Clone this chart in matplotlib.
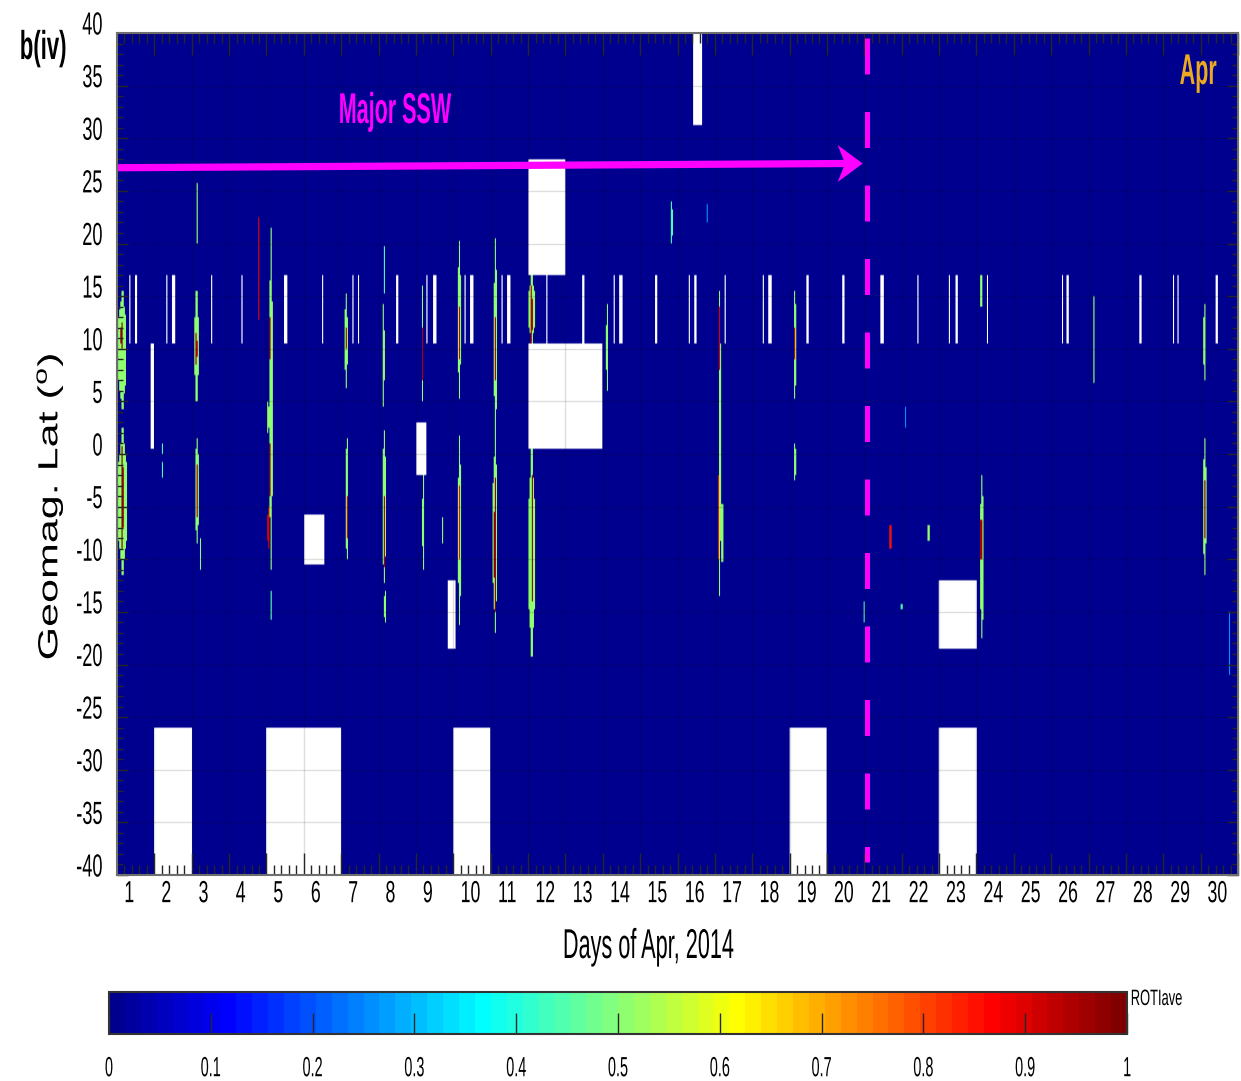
import numpy as np
import matplotlib

matplotlib.use("Agg")
import matplotlib.pyplot as plt
from matplotlib.colors import ListedColormap
from matplotlib.patches import Polygon
from matplotlib.patheffects import AbstractPathEffect
from matplotlib.ticker import FixedLocator, MultipleLocator
from matplotlib.transforms import Affine2D, ScaledTranslation

plt.rcParams["font.family"] = ["Liberation Sans", "DejaVu Sans"]
plt.rcParams["mathtext.fontset"] = "custom"
plt.rcParams["mathtext.rm"] = "Liberation Sans"
plt.rcParams["axes.unicode_minus"] = False

# --- data -----------------------------------------------------------------
# Day axis runs 0..30 (fraction of April), latitude -40..40 deg.
DAY_LABELS = list(range(1, 31))
CBAR_TICKS = [0, 0.1, 0.2, 0.3, 0.4, 0.5, 0.6, 0.7, 0.8, 0.9, 1.0]

# Blocks without receiver coverage: start day, end day, lower lat, upper lat
GAP_DAY0 = [0.99, 4.0, 9.0, 18.0, 22.0, 11.0, 11.0, 5.0, 8.0, 8.85, 22.0, 0.9, 15.42]
GAP_DAY1 = [2.0, 6.0, 10.0, 19.0, 23.0, 12.0, 13.0, 5.55, 8.27, 9.07, 23.0, 0.99, 15.66]
GAP_LAT0 = [-40, -40, -40, -40, -40, 17.0, 0.5, -10.6, -2.0, -18.5, -18.5, 0.5, 31.2]
GAP_LAT1 = [-26, -26, -26, -26, -26, 28.0, 10.5, -5.7, 2.9, -12.0, -12.0, 10.5, 40.0]

# Short daily outages inside the 10.5-17 deg band
BAND_LAT0 = 10.5
BAND_LAT1 = 17.0
OUTAGE_DAY = [0.51, 1.51, 2.53, 4.51, 5.51, 7.50, 8.50, 9.49, 10.49, 11.50,
              12.48, 13.48, 14.43, 15.48, 17.48, 18.48, 19.45, 20.47, 22.46,
              25.45, 27.40, 29.43,
              0.33, 1.34, 3.35, 6.30, 6.45, 8.30, 9.30, 10.30, 13.30, 15.30,
              16.27, 17.29, 21.30, 21.42, 22.27, 23.30, 24.27, 25.30, 28.26,
              28.40, 29.25]
OUTAGE_WIDTH = [0.08, 0.08, 0.04, 0.08, 0.04, 0.08, 0.08, 0.08, 0.08, 0.05,
                0.08, 0.08, 0.04, 0.08, 0.08, 0.05, 0.06, 0.08, 0.07,
                0.07, 0.05, 0.07,
                0.03, 0.03, 0.03, 0.03, 0.03, 0.03, 0.03, 0.03, 0.03, 0.03,
                0.03, 0.03, 0.03, 0.03, 0.03, 0.03, 0.03, 0.03, 0.03,
                0.03, 0.03]

# ROTI enhancements: day, lower lat, upper lat, ROTIave, width in days
STREAK_DAY = [0.14, 0.13, 0.15, 0.14, 1.20, 1.20, 2.15, 2.13, 2.13, 2.14,
              2.15, 2.23, 3.80, 4.12, 4.10, 4.10, 4.05, 4.04, 4.13, 6.13,
              6.13, 6.15, 6.17, 7.15, 7.13, 7.15, 7.16, 7.17, 8.17, 8.17,
              8.20, 8.72, 9.16, 9.16, 9.17, 9.17, 10.13, 10.12, 10.12, 10.12,
              11.10, 11.10, 11.10, 11.12, 13.12, 14.85, 15.80, 16.13, 16.12, 16.10,
              16.20, 18.15, 18.15, 18.15, 19.80, 20.00, 20.70, 21.00, 21.10, 21.72,
              23.13, 23.15, 23.13, 26.15, 29.10, 29.11, 29.11, 29.76]
STREAK_LAT0 = [4.2, 9.9, -11.5, -9.1, 0.0, -2.2, 20.0, 5.1, 8.5, -8.4,
               -6.0, -11.0, 12.7, -11.0, 9.0, -4.0, -9.0, 2.0, -15.7, 6.3,
               10.0, -10.0, -8.0, 15.3, 4.5, -12.2, -10.7, -16.0, 4.9, 7.0,
               -11.0, -8.5, 5.3, 9.0, -16.3, -10.0, 1.3, 7.0, -17.0, -15.0,
               10.5, 10.5, -19.3, -14.0, 6.0, 20.0, 21.9, -13.4, 8.0, -10.0,
               -12.0, 5.3, 9.0, -2.6, -20.0, -16.0, -9.8, -15.0, 2.4, -8.7,
               13.2, -17.6, -11.4, 6.7, 7.1, -11.4, -8.0, -21.0]
STREAK_LAT1 = [15.6, 12.5, 2.5, 0.7, 1.0, -0.8, 25.8, 15.4, 11.5, 1.6,
               -1.0, -8.0, 22.5, 21.5, 13.0, 1.0, -5.0, 5.0, -13.0, 15.3,
               12.0, 1.6, -4.0, 19.7, 14.3, 2.3, -4.0, -13.0, 16.0, 12.0,
               -2.0, -6.0, 20.2, 14.0, 1.7, -3.0, 20.5, 13.0, 2.0, -2.3,
               17.0, 16.0, 0.5, -2.0, 14.3, 24.0, 23.7, 15.6, 14.0, -2.0,
               -3.0, 15.6, 12.0, 1.0, -17.0, -14.0, -6.0, -14.0, 4.5, -6.2,
               17.8, -2.0, -4.8, 15.1, 14.3, 1.5, -2.5, -15.0]
STREAK_ROTI = [0.5, 0.97, 0.5, 0.97, 0.45, 0.45, 0.5, 0.5, 0.95, 0.5,
               0.95, 0.5, 0.9, 0.5, 0.95, 0.95, 0.9, 0.5, 0.45, 0.5,
               0.95, 0.5, 0.9, 0.45, 0.5, 0.5, 0.95, 0.5, 0.5, 0.95,
               0.5, 0.5, 0.5, 0.9, 0.5, 0.85, 0.5, 0.95, 0.5, 0.97,
               0.5, 0.95, 0.5, 0.97, 0.5, 0.45, 0.25, 0.5, 0.9, 0.85,
               0.5, 0.5, 0.9, 0.5, 0.45, 0.45, 0.85, 0.45, 0.25, 0.5,
               0.5, 0.5, 0.95, 0.5, 0.5, 0.5, 0.97, 0.25]
STREAK_WIDTH = [0.20, 0.06, 0.22, 0.06, 0.03, 0.03, 0.05, 0.10, 0.035, 0.11,
                0.035, 0.04, 0.035, 0.08, 0.035, 0.035, 0.035, 0.06, 0.04, 0.07,
                0.035, 0.08, 0.035, 0.04, 0.05, 0.10, 0.035, 0.05, 0.05, 0.03,
                0.05, 0.04, 0.08, 0.035, 0.08, 0.03, 0.08, 0.03, 0.11, 0.05,
                0.16, 0.035, 0.16, 0.05, 0.05, 0.035, 0.03, 0.07, 0.03, 0.03,
                0.04, 0.06, 0.03, 0.05, 0.03, 0.035, 0.035, 0.035, 0.03, 0.04,
                0.04, 0.10, 0.035, 0.05, 0.04, 0.08, 0.035, 0.03]

SSW_END_DAY = 20.07
DAY_STEP = 0.03
LAT_STEP = 0.25


class Squeeze(AbstractPathEffect):
    """Draw text compressed along x and/or y of its own glyph frame."""

    def __init__(self, sx=1.0, sy=1.0, anchor="center"):
        super().__init__()
        self._sx = sx
        self._sy = sy
        self._anchor = anchor

    def draw_path(self, renderer, gc, tpath, affine, rgbFace=None):
        ext = tpath.get_extents()
        if self._anchor == "left":
            x0 = ext.x0
        elif self._anchor == "right":
            x0 = ext.x1
        else:
            x0 = 0.5 * (ext.x0 + ext.x1)
        y0 = 0.5 * (ext.y0 + ext.y1)
        squeeze = Affine2D().translate(-x0, -y0).scale(self._sx, self._sy).translate(x0, y0)
        renderer.draw_path(gc, tpath, squeeze + affine, rgbFace)


def squeeze(text, sx=1.0, sy=1.0, anchor="center"):
    text.set_path_effects([Squeeze(sx, sy, anchor)])
    return text


def matlab_jet(m=64):
    n = int(np.ceil(m / 4))
    u = np.concatenate([np.arange(1, n + 1) / n, np.ones(n - 1), np.arange(n, 0, -1) / n])
    g = int(np.ceil(n / 2)) - int(m % 4 == 1) + np.arange(1, len(u) + 1)
    rgb = np.zeros((m, 3))
    for col, idx in ((0, g + n), (1, g), (2, g - n)):
        keep = (idx >= 1) & (idx <= m)
        rgb[idx[keep] - 1, col] = u[keep]
    return ListedColormap(rgb)


def build_field():
    days = np.arange(0, 30, DAY_STEP) + DAY_STEP / 2
    lats = np.arange(-40, 40, LAT_STEP) + LAT_STEP / 2
    D, L = np.meshgrid(days, lats)
    field = np.zeros_like(D)

    for d, l0, l1, v, w in zip(STREAK_DAY, STREAK_LAT0, STREAK_LAT1, STREAK_ROTI, STREAK_WIDTH):
        # taper the streak towards both latitude ends
        edge = np.minimum(L - l0, l1 - L) / max(l1 - l0, 1e-6)
        half = 0.5 * w * np.clip(4.0 * edge, 0.35, 1.0)
        mask = (L >= l0) & (L <= l1) & (np.abs(D - d) <= np.maximum(half, DAY_STEP / 2))
        field[mask] = np.maximum(field[mask], v)

    for d, w in zip(OUTAGE_DAY, OUTAGE_WIDTH):
        mask = (np.abs(D - d) <= max(w, DAY_STEP) / 2) & (L >= BAND_LAT0) & (L <= BAND_LAT1)
        field[mask] = np.nan

    for d0, d1, l0, l1 in zip(GAP_DAY0, GAP_DAY1, GAP_LAT0, GAP_LAT1):
        mask = (D >= d0) & (D <= d1) & (L >= l0) & (L <= l1)
        field[mask] = np.nan
    return field


W, H = 1241, 1081


def fx(px):
    return px / W


def fy(py):
    return 1 - py / H


fig = plt.figure(figsize=(W / 100, H / 100), dpi=100)
ax = fig.add_axes([fx(117), fy(875), fx(1121), 842 / H])

cmap = matlab_jet(64)
cmap.set_bad("white")
im = ax.imshow(build_field(), extent=(0, 30, -40, 40), origin="lower",
               aspect="auto", cmap=cmap, vmin=0, vmax=1)

ax.set_xlim(0, 30)
ax.set_ylim(-40, 40)
ax.xaxis.set_major_locator(FixedLocator(DAY_LABELS))
ax.set_xticklabels([str(d) for d in DAY_LABELS])
ax.xaxis.set_minor_locator(MultipleLocator(0.2))
ax.yaxis.set_major_locator(MultipleLocator(5))
ax.yaxis.set_minor_locator(MultipleLocator(1))
ax.tick_params(which="both", direction="in", top=True, right=True, color="#262626", width=1)
ax.tick_params(axis="x", which="major", length=16, pad=3, labelsize=22)
ax.tick_params(axis="x", which="minor", length=7)
ax.tick_params(axis="y", which="major", length=8, pad=10, labelsize=23)
ax.tick_params(axis="y", which="minor", length=4.3)
ax.grid(True, which="major", color="k", alpha=0.13, linewidth=1)
for sp in ax.spines.values():
    sp.set_color("#6e6e6e")
    sp.set_linewidth(1.5)

ax.set_xlabel("Days of Apr, 2014", fontsize=30)
ax.xaxis.set_label_coords((648 - 117) / 1121, (875 - 947) / 842)
ax.xaxis.label.set_va("center")
squeeze(ax.xaxis.label, sx=0.52)
ax.set_ylabel(r"Geomag. Lat ($^{\rm o}$)", fontsize=31)
ax.yaxis.set_label_coords((50 - 117) / 1121, (875 - 507) / 842)
ax.yaxis.label.set_va("center")
squeeze(ax.yaxis.label, sy=0.64)

# SSW period: arrow along the top (notched head) and dashed end line
tip_day, tip_lat = SSW_END_DAY - 0.115, 27.6
notch_day = tip_day - 0.47
ax.plot([0, notch_day], [27.2, tip_lat], color="#FF00FF", lw=5.2,
        solid_capstyle="butt", clip_on=False)
head_in = np.array([(0, 0), (-0.25, 0.185), (-0.175, 0), (-0.25, -0.185)])
head_tr = fig.dpi_scale_trans + ScaledTranslation(tip_day, tip_lat, ax.transData)
ax.add_patch(Polygon(head_in, closed=True, transform=head_tr,
                     facecolor="#FF00FF", edgecolor="none"))
ax.plot([SSW_END_DAY, SSW_END_DAY], [39.5, -38.8], color="#FF00FF", lw=3.6,
        dashes=(7.2, 7.5), solid_capstyle="butt", dash_capstyle="butt")

squeeze(fig.text(fx(394), fy(112), "Major SSW", color="#FF00FF", fontsize=31,
                 fontweight="bold", ha="center", va="center"), sx=0.5)
squeeze(fig.text(fx(1198), fy(73), "Apr", color="#EDAA20", fontsize=31,
                 fontweight="bold", ha="center", va="center"), sx=0.5)
squeeze(fig.text(fx(43), fy(48), "b(iv)", color="black", fontsize=29,
                 fontweight="bold", ha="center", va="center"), sx=0.55)

# colour bar below the map
cax = fig.add_axes([fx(109), fy(1034), fx(1018), 42 / H])
cb = fig.colorbar(im, cax=cax, orientation="horizontal", ticks=CBAR_TICKS)
cb.ax.set_xticklabels([f"{t:g}" for t in CBAR_TICKS])
cb.ax.tick_params(direction="in", length=15, width=1, color="#262626",
                  pad=16, labelsize=20)
cb.outline.set_edgecolor("#333333")
cb.outline.set_linewidth(1.5)
squeeze(fig.text(fx(1130), fy(989), "ROTIave", fontsize=16, ha="left", va="top"),
        sx=0.58, anchor="left")

# narrow tick labels, nudged like the original axis
x_shift = ScaledTranslation(-0.31, 0, fig.dpi_scale_trans)
for lab in ax.get_xticklabels():
    lab.set_ha("left")
    lab.set_transform(lab.get_transform() + x_shift)
    squeeze(lab, sx=0.58, anchor="left")
y_shift = ScaledTranslation(0, 0.10, fig.dpi_scale_trans)
for lab in ax.get_yticklabels():
    lab.set_transform(lab.get_transform() + y_shift)
    squeeze(lab, sx=0.57, anchor="right")
for lab in cb.ax.get_xticklabels():
    squeeze(lab, sx=0.52)

fig.savefig("out.png", dpi=100)
